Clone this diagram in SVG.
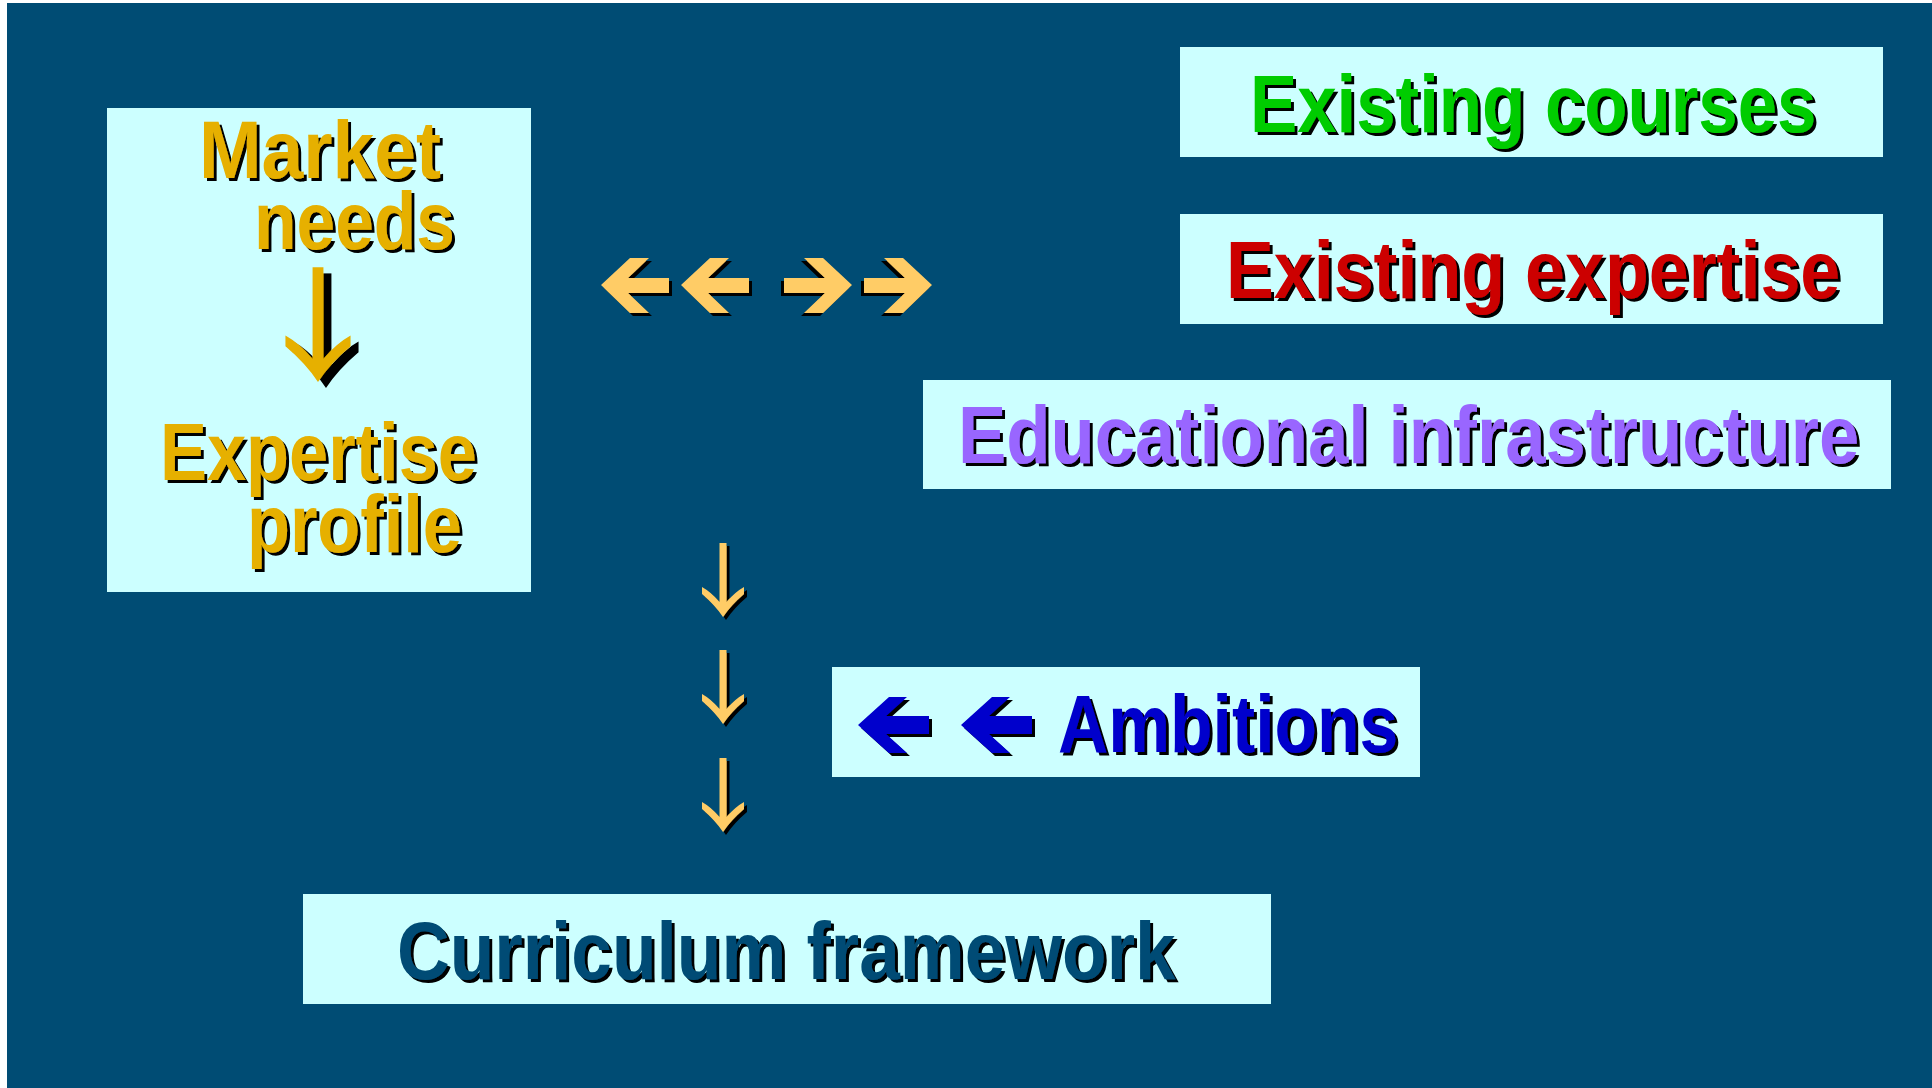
<svg xmlns="http://www.w3.org/2000/svg" width="1932" height="1088" viewBox="0 0 1932 1088">
<style>
.box{fill:#CCFFFF}
.t{font-family:"Liberation Sans",Arial,sans-serif;font-weight:bold;font-size:82px}
.lt{fill:#FFCC66}
.gold{fill:#E6B000}
</style>
<defs>
<filter id="ds" x="-10%" y="-10%" width="120%" height="130%">
<feOffset in="SourceAlpha" dx="3" dy="3" result="o"/>
<feMerge><feMergeNode in="o"/><feMergeNode in="SourceGraphic"/></feMerge>
</filter>
<filter id="ds5" x="-20%" y="-10%" width="140%" height="130%">
<feOffset in="SourceAlpha" dx="5" dy="4" result="o"/>
<feMerge><feMergeNode in="o"/><feMergeNode in="SourceGraphic"/></feMerge>
</filter>
<path id="down" d="M -3.5,-74 L 3.5,-74 L 3.5,-15 Q 12,-25 21,-30 L 21,-23 Q 8,-12 0,0 Q -8,-12 -21,-23 L -21,-30 Q -12,-25 -3.5,-15 Z"/>
<polygon id="left" points="0,27 29,0 48,0 27,20 68,20 68,35 27,35 48,55 29,55"/>
<polygon id="bleft" points="0,28 31,0 49,0 28,19 71,19 71,37 28,37 49,56 31,56"/>
</defs>
<rect x="0" y="0" width="1932" height="1088" fill="#FFFFFF"/>
<rect x="7" y="3" width="1925" height="1085" fill="#004C74"/>

<g id="market-expertise">
<rect class="box" x="107" y="108" width="424" height="484"/>
<text class="t gold" filter="url(#ds)"><tspan x="199" y="178" textLength="242" lengthAdjust="spacingAndGlyphs">Market</tspan><tspan x="254" y="249" textLength="201" lengthAdjust="spacingAndGlyphs">needs</tspan></text>
<use href="#down" class="gold" filter="url(#ds5)" transform="translate(318,382) scale(1.55)"/>
<text class="t gold" filter="url(#ds)"><tspan x="160" y="480" textLength="317" lengthAdjust="spacingAndGlyphs">Expertise</tspan><tspan x="247" y="552" textLength="215" lengthAdjust="spacingAndGlyphs">profile</tspan></text>
</g>

<g id="existing-courses">
<rect class="box" x="1180" y="47" width="703" height="110"/>
<text class="t" fill="#00CC00" filter="url(#ds)" transform="translate(1250,132) scale(0.87,1)" x="0" y="0" textLength="651" lengthAdjust="spacingAndGlyphs">Existing courses</text>
</g>

<g id="existing-expertise">
<rect class="box" x="1180" y="214" width="703" height="110"/>
<text class="t" fill="#CC0000" filter="url(#ds)" transform="translate(1226,298) scale(0.87,1)" x="0" y="0" textLength="706" lengthAdjust="spacingAndGlyphs">Existing expertise</text>
</g>

<g id="educational-infrastructure">
<rect class="box" x="923" y="380" width="968" height="109"/>
<text class="t" fill="#9966FF" filter="url(#ds)" transform="translate(958,463) scale(0.87,1)" x="0" y="0" textLength="1036" lengthAdjust="spacingAndGlyphs">Educational infrastructure</text>
</g>

<g id="ambitions">
<rect class="box" x="832" y="667" width="588" height="110"/>
<use href="#bleft" fill="#0000CC" filter="url(#ds)" transform="translate(858,697)"/>
<use href="#bleft" fill="#0000CC" filter="url(#ds)" transform="translate(961,697)"/>
<text class="t" fill="#0000CC" filter="url(#ds)" transform="translate(1058,752) scale(0.87,1)" x="0" y="0" textLength="391" lengthAdjust="spacingAndGlyphs">Ambitions</text>
</g>

<g id="curriculum-framework">
<rect class="box" x="303" y="894" width="968" height="110"/>
<text class="t" fill="#004C74" filter="url(#ds)" transform="translate(397,979) scale(0.87,1)" x="0" y="0" textLength="895" lengthAdjust="spacingAndGlyphs">Curriculum framework</text>
</g>

<g id="connectors">
<use href="#left" class="lt" filter="url(#ds)" transform="translate(601,258)"/>
<use href="#left" class="lt" filter="url(#ds)" transform="translate(681,258)"/>
<use href="#left" class="lt" filter="url(#ds)" transform="translate(852,258) scale(-1,1)"/>
<use href="#left" class="lt" filter="url(#ds)" transform="translate(932,258) scale(-1,1)"/>
<use href="#down" class="lt" filter="url(#ds)" transform="translate(723,617)"/>
<use href="#down" class="lt" filter="url(#ds)" transform="translate(723,724)"/>
<use href="#down" class="lt" filter="url(#ds)" transform="translate(723,832)"/>
</g>
</svg>
